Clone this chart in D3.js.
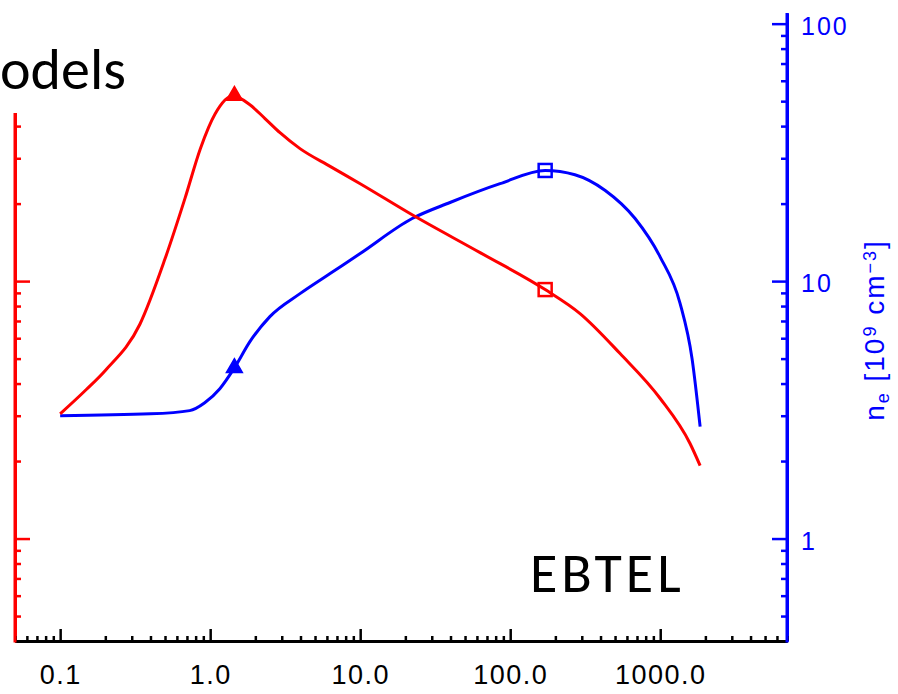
<!DOCTYPE html>
<html>
<head>
<meta charset="utf-8">
<script src="https://cdn.jsdelivr.net/npm/d3@7"></script>
<style>
  html, body { margin: 0; padding: 0; background: #fff; }
  svg { display: block; }
</style>
</head>
<body>
<svg id="chart" width="898" height="694"></svg>
<script>
// EBTEL loop evolution: temperature (red, left log axis) and density (blue, right log axis)
// against time (log axis).

// time [s], temperature curve
const tempTime  = [0.1, 0.15, 0.2, 0.34, 0.5, 0.68, 0.86, 1.08, 1.42, 1.84, 2.32, 2.92, 3.97, 6.3, 10, 22.2, 63, 171, 292, 540, 1000, 1580, 1845];
const tempValue = [3.05, 3.8, 4.5, 6.8, 12.2, 21, 32.7, 44.7, 52.5, 48.4, 42.8, 37.7, 32.7, 27.9, 23.9, 18.1, 12.9, 9.27, 7.48, 5.23, 3.5, 2.34, 1.92];

// time [s], electron density curve [10^9 cm^-3]
const densTime  = [0.1, 0.4, 0.73, 0.92, 1.16, 1.45, 1.84, 2.5, 3.97, 6.3, 10, 22.2, 39.7, 85.6, 171, 270, 430, 680, 1000, 1356, 1630, 1845];
const densValue = [3.0, 3.05, 3.14, 3.37, 3.82, 4.6, 5.82, 7.28, 8.94, 10.7, 12.8, 17.5, 20.2, 23.9, 26.9, 25.9, 22.5, 17.5, 12.4, 8.2, 5.0, 2.72];

// highlighted instants: peak temperature and peak density
const markTime      = [1.45, 171];
const markTempValue = [52.5, 9.27];
const markDensValue = [4.6, 26.9];

// axis ticks
const xMajor  = [0.1, 1, 10, 100, 1000];
const xLabels = ["0.1", "1.0", "10.0", "100.0", "1000.0"];
const yMajor  = [1, 10, 100];
const yLabels = ["1", "10", "100"];

const RED = "#ff0000", BLUE = "#0000ff";
const AXIS_FONT = "'Liberation Sans', Arial, Helvetica, sans-serif";
const SLIDE_FONT = "Carlito, Lato, 'Open Sans', sans-serif";

const svg = d3.select("#chart");

const x  = d3.scaleLog().domain([0.05, 7000]).range([15, 787]);
const yT = d3.scaleLog().domain([0.4, 110]).range([641, 13]);
const yN = d3.scaleLog().domain([0.4, 110]).range([641, 13]);

const notMajor = majors => v => !majors.some(m => Math.abs(m - v) / m < 1e-6);
const xMinor  = x.ticks().filter(notMajor(xMajor));
const yMinorT = yT.ticks().filter(notMajor(yMajor));
const yMinorN = yN.ticks().filter(notMajor(yMajor));

function styleAxis(g, color) {
  g.selectAll("path.domain").attr("stroke", color).attr("stroke-width", 3);
  g.selectAll(".tick line").attr("stroke", color).attr("stroke-width", 2.5);
}

// ---- left (temperature) axis ----
const gL1 = svg.append("g").attr("transform", "translate(15,0)")
  .call(d3.axisRight(yT).tickValues(yMinorT).tickSize(6).tickSizeOuter(0).tickFormat(""));
styleAxis(gL1, RED);
const gL2 = svg.append("g").attr("transform", "translate(15,0)")
  .call(d3.axisRight(yT).tickValues(yMajor).tickSize(15).tickSizeOuter(0).tickFormat(""));
styleAxis(gL2, RED);

// ---- right (density) axis ----
const gR1 = svg.append("g").attr("transform", "translate(787,0)")
  .call(d3.axisLeft(yN).tickValues(yMinorN).tickSize(6).tickSizeOuter(0).tickFormat(""));
styleAxis(gR1, BLUE);
const gR2 = svg.append("g").attr("transform", "translate(787,0)")
  .call(d3.axisLeft(yN).tickValues(yMajor).tickSize(15).tickSizeOuter(0).tickFormat(""));
styleAxis(gR2, BLUE);
const gR3 = svg.append("g").attr("transform", "translate(787,0)")
  .call(d3.axisRight(yN).tickValues(yMajor).tickSize(0).tickPadding(14)
    .tickFormat((d, i) => yLabels[i]));
gR3.select("path.domain").remove();
gR3.selectAll(".tick text")
  .style("font-family", AXIS_FONT).attr("fill", BLUE)
  .style("font-size", "25px").attr("letter-spacing", 2).attr("dy", "0.42em");

// ---- bottom (time) axis ----
const gB1 = svg.append("g").attr("transform", "translate(0,641)")
  .call(d3.axisBottom(x).tickValues(xMinor).tickSize(-5).tickSizeOuter(0).tickFormat(""));
styleAxis(gB1, "#000");
const gB2 = svg.append("g").attr("transform", "translate(0,641)")
  .call(d3.axisBottom(x).tickValues(xMajor).tickSize(-12).tickSizeOuter(0).tickPadding(24)
    .tickFormat((d, i) => xLabels[i]));
styleAxis(gB2, "#000");
gB2.selectAll(".tick text")
  .style("font-family", AXIS_FONT).attr("fill", "#000")
  .style("font-size", "27px").attr("letter-spacing", 1.5);

// coloured vertical axes drawn over the black baseline at the corners
svg.append("line").attr("x1", 15).attr("x2", 15).attr("y1", 13).attr("y2", 642.5)
  .attr("stroke", RED).attr("stroke-width", 3);
svg.append("line").attr("x1", 787).attr("x2", 787).attr("y1", 13).attr("y2", 642.5)
  .attr("stroke", BLUE).attr("stroke-width", 3);

// ---- density axis title ----
const title = svg.append("text")
  .attr("transform", "translate(884,330) rotate(-90)")
  .attr("text-anchor", "middle").attr("fill", BLUE)
  .style("font-family", AXIS_FONT).style("font-size", "28px").attr("letter-spacing", 2);
title.append("tspan").text("n");
title.append("tspan").attr("baseline-shift", "-25%").style("font-size", "18px").text("e");
title.append("tspan").text(" [10");
title.append("tspan").attr("baseline-shift", "45%").style("font-size", "18px").text("9");
title.append("tspan").text(" cm");
title.append("tspan").attr("baseline-shift", "45%").style("font-size", "18px").text("\u22123");
title.append("tspan").text("]");

// ---- curves ----
const tempData = tempTime.map((t, i) => [t, tempValue[i]]);
const densData = densTime.map((t, i) => [t, densValue[i]]);

const lineT = d3.line().x(d => x(d[0])).y(d => yT(d[1])).curve(d3.curveMonotoneX);
const lineN = d3.line().x(d => x(d[0])).y(d => yN(d[1])).curve(d3.curveMonotoneX);

svg.append("path").datum(densData).attr("d", lineN)
  .attr("fill", "none").attr("stroke", BLUE).attr("stroke-width", 3).attr("stroke-linejoin", "round");
svg.append("path").datum(tempData).attr("d", lineT)
  .attr("fill", "none").attr("stroke", RED).attr("stroke-width", 3).attr("stroke-linejoin", "round");

// markers: filled triangle at first instant, open square at second
function drawMarkers(values, yScale, color) {
  const g = svg.append("g");
  const tri = d3.symbol().type(d3.symbolTriangle).size(110);
  g.append("path").attr("d", tri())
    .attr("transform", `translate(${x(markTime[0])},${yScale(values[0])})`)
    .attr("fill", color).attr("stroke", color).attr("stroke-width", 1.5);
  g.append("rect")
    .attr("x", x(markTime[1]) - 6.5).attr("y", yScale(values[1]) - 6.5)
    .attr("width", 13).attr("height", 13)
    .attr("fill", "none").attr("stroke", color).attr("stroke-width", 2.5);
}
drawMarkers(markDensValue, yN, BLUE);
drawMarkers(markTempValue, yT, RED);

// ---- slide text ----
svg.append("rect").attr("x", 0).attr("y", 0).attr("width", 150).attr("height", 113).attr("fill", "#fff");
svg.append("text").attr("x", 0).attr("y", 89)
  .style("font-family", SLIDE_FONT).style("font-size", "58px")
  .attr("fill", "#000").text("odels");
svg.append("text").attr("x", 530).attr("y", 592)
  .style("font-family", SLIDE_FONT).style("font-size", "56px").attr("letter-spacing", 4)
  .attr("fill", "#000").text("EBTEL");
</script>
</body>
</html>
